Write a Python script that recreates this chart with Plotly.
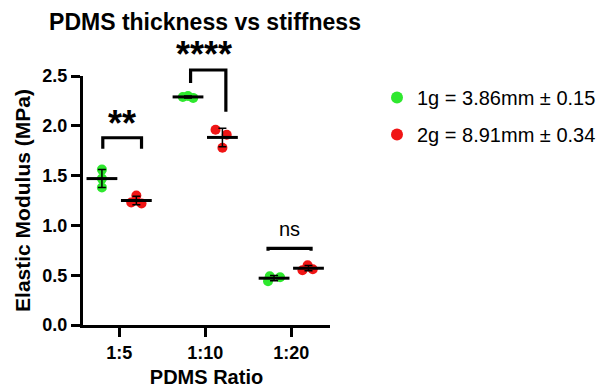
import numpy as np
import plotly.graph_objects as go

# ---------------- data ----------------
categories = ["1:5", "1:10", "1:20"]
series_names = ["1g = 3.86mm ± 0.15", "2g = 8.91mm ± 0.34"]
g1_values = [[1.56, 1.47, 1.38], [2.29, 2.30, 2.28], [0.49, 0.44, 0.48]]
g2_values = [[1.30, 1.23, 1.22], [1.96, 1.91, 1.78], [0.55, 0.60, 0.56]]
sig_labels = ["**", "****", "ns"]
y_ticks = [0.0, 0.5, 1.0, 1.5, 2.0, 2.5]

# ---------------- style ----------------
COLORS = ["#2EE82E", "#F01515"]
GROUP_OFFSET = [-0.2, 0.2]
JITTER = {
    0: [[0.0, 0.0, 0.0], [-0.06, 0.0, 0.06], [-0.05, -0.07, 0.07]],
    1: [[0.0, -0.06, 0.06], [-0.08, 0.05, 0.0], [-0.07, -0.01, 0.05]],
}
FONT = "Liberation Sans, Arial, sans-serif"
XR = [-0.42, 2.45]
YR = [0.0, 2.5]


def xd(v):
    return (v - XR[0]) / (XR[1] - XR[0])


def yd(v):
    return (v - YR[0]) / (YR[1] - YR[0])


fig = go.Figure()
cat_idx = np.arange(len(categories))

for g, vals in enumerate([g1_values, g2_values]):
    xs, ys = [], []
    for c, v in enumerate(vals):
        for j, val in enumerate(v):
            xs.append(c + GROUP_OFFSET[g] + JITTER[g][c][j])
            ys.append(val)
    fig.add_trace(go.Scatter(
        x=xs, y=ys, mode="markers", name=series_names[g],
        legendgroup=f"g{g}",
        marker=dict(size=10, color=COLORS[g], line=dict(width=0)),
        cliponaxis=False,
    ))

for g, vals in enumerate([g1_values, g2_values]):
    means = [float(np.mean(v)) for v in vals]
    sds = [float(np.std(v, ddof=1)) for v in vals]
    fig.add_trace(go.Scatter(
        x=cat_idx + GROUP_OFFSET[g], y=means, mode="markers",
        showlegend=False,
        marker=dict(symbol="line-ew", size=22, color="black",
                    line=dict(width=3, color="black")),
        error_y=dict(type="data", array=sds, visible=True,
                     color="black", thickness=1.5, width=4),
        cliponaxis=False,
    ))

# significance brackets: (x_left, x_right, y_top, y_left_leg, y_right_leg, text_y, text_x, size, bold)
brackets = [
    (-0.19, 0.26, 1.88, 1.77, 1.77, 2.02, 0.03, 36, True),
    (-0.17, 0.24, 2.56, 2.43, 2.14, 2.72, -0.01, 36, True),
    (-0.27, 0.23, 0.77, 0.745, 0.745, 0.96, -0.02, 20, False),
]
for c, (xl, xr, yt, yl, yr, ty, tx, fs, bold) in enumerate(brackets):
    x0 = xd(c + xl)
    x1 = xd(c + xr)
    fig.add_shape(type="path", xref="x domain", yref="y domain",
                  path=f"M {x0},{yd(yl)} L {x0},{yd(yt)} L {x1},{yd(yt)} L {x1},{yd(yr)}",
                  line=dict(color="black", width=3.2), layer="above")
    txt = sig_labels[c]
    fig.add_annotation(xref="x domain", yref="y domain", x=xd(c + tx), y=yd(ty),
                       text=f"<b>{txt}</b>" if bold else txt,
                       showarrow=False, font=dict(size=fs, family=FONT, color="black"),
                       xanchor="center", yanchor="middle")

fig.update_layout(
    width=610, height=390,
    margin=dict(l=83, r=280, t=76, b=65, autoexpand=False),
    plot_bgcolor="white", paper_bgcolor="white",
    font=dict(family=FONT, color="black"),
    title=dict(text="<b>PDMS thickness vs stiffness</b>", x=205 / 610, xanchor="center",
               y=1 - 22 / 390, yanchor="middle", font=dict(size=23, family=FONT)),
    showlegend=True,
    legend=dict(xref="container", yref="container", x=377 / 610, xanchor="left",
                y=1 - 78 / 390, yanchor="top",
                font=dict(size=20, family=FONT), tracegroupgap=8,
                itemsizing="constant", bgcolor="rgba(0,0,0,0)"),
    xaxis=dict(range=XR, tickvals=list(cat_idx), ticktext=[f"<b>{c}</b>" for c in categories],
               showline=True, linecolor="black", linewidth=3, ticks="outside",
               ticklen=9, tickwidth=2.5, tickcolor="black", showgrid=False, zeroline=False,
               tickfont=dict(size=18, family=FONT),
               title=dict(text="<b>PDMS Ratio</b>", font=dict(size=20, family=FONT), standoff=9)),
    yaxis=dict(range=YR, tickvals=y_ticks, ticktext=[f"<b>{t:.1f}</b>" for t in y_ticks],
               showline=True, linecolor="black", linewidth=3, ticks="outside",
               ticklen=9, tickwidth=2.5, tickcolor="black", showgrid=False, zeroline=False,
               tickfont=dict(size=18, family=FONT),
               title=dict(text="<b>Elastic Modulus (MPa)</b>", font=dict(size=21, family=FONT), standoff=7)),
)

fig.write_html("out.html")
